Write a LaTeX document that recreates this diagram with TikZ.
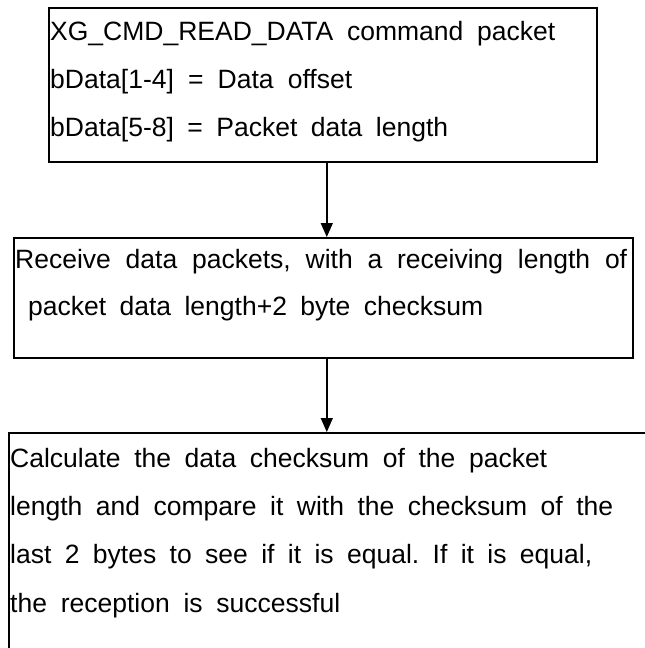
\documentclass[tikz,border=0pt]{standalone}
\usepackage{fontspec}
\setmainfont{Liberation Sans}
\usetikzlibrary{arrows.meta}
\frenchspacing

\tikzset{
  box/.style={draw=black, line width=1.6pt, rectangle, inner sep=0pt, anchor=north west},
  txt/.style={inner sep=0pt, anchor=base west, font=\fontsize{26.5}{30}\selectfont},
  arr/.style={draw=black, line width=1.4pt, -{Triangle[width=12pt,length=14pt]}}
}

\begin{document}
\begin{tikzpicture}[x=1pt,y=-1pt]
  \useasboundingbox (0,0) rectangle (645,648);
  \clip (0,0) rectangle (645,648);

  % process boxes
  \node[box, minimum width=548pt, minimum height=154pt] (b1) at (48,7) {};
  \node[box, minimum width=619pt, minimum height=120pt] (b2) at (13,237) {};
  \node[box, minimum width=660pt, minimum height=260pt] (b3) at (8,432) {};

  % box 1 text
  \node[txt] (t11) at (50,40) {\makebox[505pt][s]{XG\_CMD\_READ\_DATA command packet}};
  \node[txt] (t12) at (50,88) {\makebox[302pt][s]{bData[1-4] = Data offset}};
  \node[txt] (t13) at (50,136) {\makebox[398pt][s]{bData[5-8] = Packet data length}};

  % box 2 text
  \node[txt] (t21) at (15,268) {\makebox[612pt][s]{Receive data packets, with a receiving length of}};
  \node[txt] (t22) at (28,315) {\makebox[455pt][s]{packet data length+2 byte checksum}};

  % box 3 text
  \node[txt] (t31) at (10,467) {\makebox[537pt][s]{Calculate the data checksum of the packet}};
  \node[txt] (t32) at (10,515) {\makebox[603pt][s]{length and compare it with the checksum of the}};
  \node[txt] (t33) at (10,563) {\makebox[582pt][s]{last 2 bytes to see if it is equal. If it is equal,}};
  \node[txt] (t34) at (10,612) {\makebox[330pt][s]{the reception is successful}};

  % flow arrows
  \draw[arr] ([xshift=4pt]b1.south) -- ([xshift=4pt]b1.south |- b2.north);
  \draw[arr] ([xshift=3.5pt]b2.south) -- ([xshift=3.5pt]b2.south |- b3.north);
\end{tikzpicture}
\end{document}
